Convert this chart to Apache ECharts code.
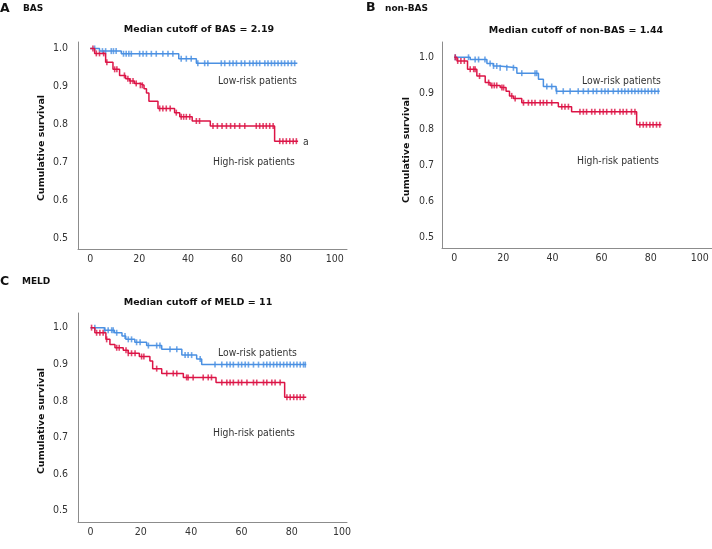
<!DOCTYPE html>
<html><head><meta charset="utf-8">
<script src="https://cdn.jsdelivr.net/npm/echarts@6/dist/echarts.min.js"></script>
<style>html,body{margin:0;padding:0;background:#fff}#c{width:712px;height:549px}</style>
</head><body><div id="c"></div>
<script>
// ---- Data (time in months, cumulative survival) ----
const X_TICKS = [0, 20, 40, 60, 80, 100];
const Y_TICKS = [0.5, 0.6, 0.7, 0.8, 0.9, 1.0];

const A_LOW_STEPS = [[0,1],[3.8,0.993],[12.7,0.986],[36.2,0.973],[43.4,0.961],[84.7,0.961]];
const A_LOW_CENSOR = [1.8,5,6.3,8.6,9.5,10.6,13.6,14.7,15.8,16.8,20.2,21.6,23,25,27,29.7,31.8,33.8,37.2,39.3,41.3,44,46.8,48.1,53.6,55,57,58.4,59.8,61.8,63.2,65.2,66.6,68,69.3,71.4,72.7,74.1,75.4,76.8,78.2,79.5,80.9,82.3,83.6];
const A_HIGH_STEPS = [[0,1],[1.8,0.987],[6.3,0.964],[9.3,0.945],[12,0.929],[14.5,0.92],[16.1,0.914],[18.1,0.908],[20.2,0.903],[22,0.894],[23,0.883],[24,0.861],[27.7,0.842],[34.5,0.831],[36.6,0.82],[41.7,0.809],[49.1,0.796],[75.4,0.756],[85,0.756]];
const A_HIGH_CENSOR = [1.1,2.5,3.8,5.5,6.8,10,10.9,14,15.4,16.4,17.5,18.8,20.5,21.3,28.4,29.7,31.1,32.7,35.2,37.2,38.2,39.3,40.7,43.4,44.7,50.2,52,53.9,55.7,57.4,59.1,61.1,63.2,67.9,69.3,70.7,72,73.4,74.8,77.5,78.8,80.2,81.6,83,84.3];

const B_LOW_STEPS = [[0,1],[6.5,0.994],[13.3,0.983],[15.9,0.976],[18.3,0.971],[25.5,0.956],[34.3,0.939],[36.3,0.919],[41.5,0.906],[83.7,0.906]];
const B_LOW_CENSOR = [0.4,5.8,8.5,9.9,12.5,14.6,16,17.3,18.7,21.4,24.1,27.5,32.9,33.6,37.7,39.7,41.7,44.4,47.2,50.5,52.6,54.6,56.6,58,60,61.4,62.7,64.8,66.8,68.2,69.5,70.9,72.3,73.6,75,76.3,77.7,79,80.4,81.7,83.1];
const B_HIGH_STEPS = [[0,1],[1.1,0.99],[5.4,0.967],[9.2,0.948],[12.6,0.93],[14.6,0.922],[18.7,0.916],[21.1,0.906],[22.5,0.893],[24.1,0.886],[27.5,0.874],[42.4,0.863],[47.8,0.849],[74.3,0.813],[84.4,0.813]];
const B_HIGH_CENSOR = [0.4,1.4,2.7,4.1,6.5,7.9,8.5,10.3,14,15.3,16.3,17.3,19.4,20.1,23.4,24.8,28.2,30.2,31.6,32.9,35,36.3,37.7,39.7,43.8,45.1,46.5,51.2,52.6,53.9,56,57.3,59.3,60.7,62.1,64.1,65.4,67.5,68.8,70.2,72.2,73.6,75.6,77,78.3,79.7,81,82.4,83.7];

const C_LOW_STEPS = [[0,1],[5.5,0.993],[9.5,0.986],[12.5,0.977],[14,0.968],[17.6,0.96],[22.3,0.951],[28.3,0.941],[36.3,0.925],[42.2,0.914],[44.2,0.899],[85.8,0.899]];
const C_LOW_CENSOR = [1.7,5.7,7,8.4,9,10.4,13.7,15,16.3,18.3,19.7,23,26.3,27.6,31.6,34.3,37.6,38.8,40.2,43.6,49.5,52.2,54.2,55.5,56.8,58.8,60.1,61.5,62.8,64.8,66.8,68.8,70.1,71.4,72.8,74.1,75.4,76.8,78.1,79.4,80.8,82.1,83.4,84.7,85.4];
const C_HIGH_STEPS = [[0,1],[1.7,0.986],[6.1,0.968],[7.7,0.954],[9.7,0.945],[13,0.938],[15,0.93],[19.4,0.921],[23.6,0.909],[24.7,0.888],[28.3,0.875],[36.9,0.864],[49.9,0.85],[77.2,0.81],[85.8,0.81]];
const C_HIGH_CENSOR = [0.4,2.4,3.7,5,6.4,10.4,11.4,14.1,15,16.3,17.7,20.3,21.2,26.3,30.3,32.9,34.3,38.2,38.8,40.8,44.8,46.8,48.1,52.2,54.2,55.5,56.8,58.8,60.1,62.2,64.8,66.1,68.8,70.1,72.1,73.4,75.4,78.1,79.4,80.8,82.1,83.4,84.7];

const PANELS = [
  {letter:'A', name:'BAS', title:'Median cutoff of BAS = 2.19', low:[A_LOW_STEPS,A_LOW_CENSOR], high:[A_HIGH_STEPS,A_HIGH_CENSOR]},
  {letter:'B', name:'non-BAS', title:'Median cutoff of non-BAS = 1.44', low:[B_LOW_STEPS,B_LOW_CENSOR], high:[B_HIGH_STEPS,B_HIGH_CENSOR]},
  {letter:'C', name:'MELD', title:'Median cutoff of MELD = 11', low:[C_LOW_STEPS,C_LOW_CENSOR], high:[C_HIGH_STEPS,C_HIGH_CENSOR]}
];

// ---- Layout / style ----
const BLUE = '#4a90e2', RED = '#dc1446';
const FC = '"DejaVu Sans Condensed", "Noto Sans", sans-serif';
const FB = '"DejaVu Sans", sans-serif';
const LAYOUT = [
  {grid:{left:78, top:42, width:269, height:207}, x:[-5,105], y:[0.472,1.017], ym:10,
   t:[199,30], ylab:[42,148], low:[218,81], high:[213,162], a:[303,142], L:[0,9], N:[23,9]},
  {grid:{left:442, top:42, width:270, height:206}, x:[-5,105], y:[0.471,1.0425], ym:8,
   t:[576,31], ylab:[407,150], low:[582,81], high:[577,161], L:[366,8], N:[385,9]},
  {grid:{left:78, top:313, width:269, height:209}, x:[-5,102], y:[0.469,1.04], ym:10,
   t:[198,302.5], ylab:[42,421], low:[218,353], high:[213,433], L:[0,282], N:[22,282]}
];

function survAt(steps, t){ let v = steps[0][1]; for (const [x,y] of steps){ if (x <= t) v = y; else break; } return v; }

const grids=[], xAxes=[], yAxes=[], series=[], graphics=[];
PANELS.forEach((p,i)=>{
  const L = LAYOUT[i];
  grids.push(L.grid);
  xAxes.push({type:'value', gridIndex:i, min:L.x[0], max:L.x[1],
    axisLine:{show:true, onZero:false, lineStyle:{color:'#8c8c8c', width:1}},
    axisTick:{show:false}, splitLine:{show:false},
    axisLabel:{customValues:X_TICKS, color:'#333', fontFamily:FC, fontSize:10.5, margin:5}});
  yAxes.push({type:'value', gridIndex:i, min:L.y[0], max:L.y[1],
    axisLine:{show:true, onZero:false, lineStyle:{color:'#8c8c8c', width:1}},
    axisTick:{show:false}, splitLine:{show:false},
    axisLabel:{customValues:Y_TICKS, color:'#333', fontFamily:FC, fontSize:10.5, margin:L.ym, formatter:v=>v.toFixed(1)}});
  [[p.low,BLUE],[p.high,RED]].forEach(([d,col])=>{
    series.push({type:'line', xAxisIndex:i, yAxisIndex:i, step:'end', data:d[0], showSymbol:false,
      lineStyle:{color:col, width:1.5}, silent:true, animation:false});
    series.push({type:'scatter', xAxisIndex:i, yAxisIndex:i, data:d[1].map(t=>[t, survAt(d[0], t)]),
      symbol:'rect', symbolSize:[1.6,6], itemStyle:{color:col}, silent:true, animation:false});
  });
  graphics.push({type:'text', x:L.L[0], y:L.L[1], style:{text:p.letter, font:'bold 12.5px '+FB, fill:'#111', align:'left', verticalAlign:'middle'}});
  graphics.push({type:'text', x:L.N[0], y:L.N[1], style:{text:p.name, font:'bold 9px '+FB, fill:'#111', align:'left', verticalAlign:'middle'}});
  graphics.push({type:'text', x:L.t[0], y:L.t[1], style:{text:p.title, font:'bold 9.5px '+FB, fill:'#111', align:'center', verticalAlign:'middle'}});
  graphics.push({type:'text', x:L.ylab[0], y:L.ylab[1], rotation:Math.PI/2, style:{text:'Cumulative survival', font:'bold 9.5px '+FB, fill:'#111', align:'center', verticalAlign:'middle'}});
  graphics.push({type:'text', x:L.low[0], y:L.low[1], style:{text:'Low-risk patients', font:'10.3px '+FC, fill:'#333', align:'left', verticalAlign:'middle'}});
  graphics.push({type:'text', x:L.high[0], y:L.high[1], style:{text:'High-risk patients', font:'10.3px '+FC, fill:'#333', align:'left', verticalAlign:'middle'}});
  if (L.a) graphics.push({type:'text', x:L.a[0], y:L.a[1], style:{text:'a', font:'10.3px '+FC, fill:'#333', align:'left', verticalAlign:'middle'}});
});

const chart = echarts.init(document.getElementById('c'), null, {renderer:'canvas'});
chart.setOption({animation:false, backgroundColor:'#fff', grid:grids, xAxis:xAxes, yAxis:yAxes, series:series, graphic:graphics});
</script></body></html>
